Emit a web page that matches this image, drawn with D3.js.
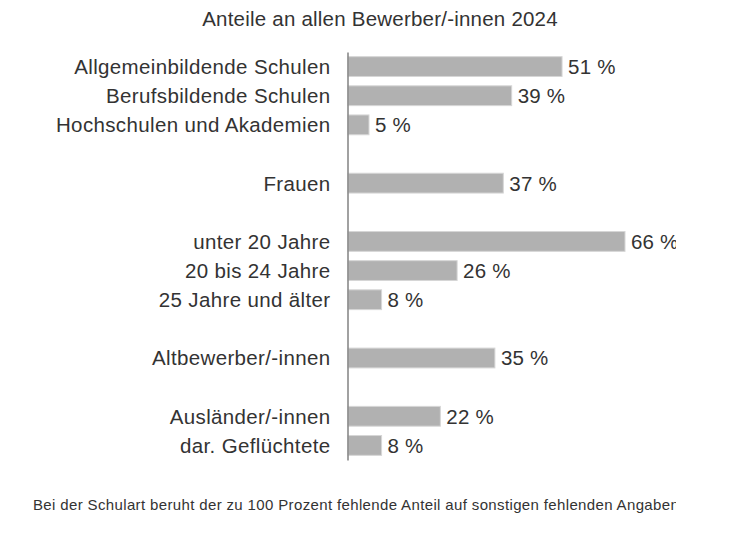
<!DOCTYPE html>
<html>
<head>
<meta charset="utf-8">
<script src="https://cdn.jsdelivr.net/npm/d3@7"></script>
<style>
  html, body { margin: 0; padding: 0; background: #fff; }
  svg { display: block; }
</style>
</head>
<body>
<svg id="chart" width="750" height="546"></svg>
<script>
const title = "Anteile an allen Bewerber/-innen 2024";
const footnote = "Bei der Schulart beruht der zu 100 Prozent fehlende Anteil auf sonstigen fehlenden Angaben";
const categories = [
  "Allgemeinbildende Schulen",
  "Berufsbildende Schulen",
  "Hochschulen und Akademien",
  "Frauen",
  "unter 20 Jahre",
  "20 bis 24 Jahre",
  "25 Jahre und älter",
  "Altbewerber/-innen",
  "Ausländer/-innen",
  "dar. Geflüchtete"
];
const values = [51, 39, 5, 37, 66, 26, 8, 35, 22, 8];
const groups = [0, 0, 0, 1, 2, 2, 2, 3, 4, 4];

// build slot domain with one empty slot between groups
const slots = [];
categories.forEach((c, i) => {
  if (i > 0 && groups[i] !== groups[i - 1]) slots.push("gap" + i);
  slots.push(c);
});

const svg = d3.select("#chart");
const W = 750, H = 546;
const clipW = 676;

svg.append("defs").append("clipPath").attr("id", "clip")
  .append("rect").attr("x", 0).attr("y", 0).attr("width", clipW).attr("height", H);

const g = svg.append("g").attr("clip-path", "url(#clip)");

const x = d3.scaleLinear().domain([0, 100]).range([348, 348 + 419.7]);
const y = d3.scaleBand().domain(slots).range([52, 460]).paddingInner(0.32).paddingOuter(0.16);

const font = "'Liberation Sans', Arial, Helvetica, sans-serif";
const textColor = "#333333";

// title
g.append("text")
  .attr("x", 380).attr("y", 26)
  .attr("text-anchor", "middle")
  .attr("font-family", font).attr("font-size", 20.5)
  .attr("letter-spacing", 0.22)
  .attr("fill", textColor)
  .text(title);

// bars
const data = categories.map((c, i) => ({ c, v: values[i] }));
g.selectAll("rect.bar").data(data).join("rect")
  .attr("class", "bar")
  .attr("x", x(0))
  .attr("y", d => y(d.c))
  .attr("width", d => x(d.v) - x(0))
  .attr("height", y.bandwidth())
  .attr("fill", "#b1b1b1")
  .attr("stroke", "#d6d6d6")
  .attr("stroke-width", 1);

// value labels
g.selectAll("text.val").data(data).join("text")
  .attr("class", "val")
  .attr("x", d => x(d.v) + 6)
  .attr("y", d => y(d.c) + y.bandwidth() / 2)
  .attr("dy", "0.36em")
  .attr("font-family", font).attr("font-size", 20.5)
  .attr("letter-spacing", 0.2)
  .attr("fill", textColor)
  .text(d => d.v + " %");

// category axis
const axis = d3.axisLeft(y).tickValues(categories).tickSize(0).tickSizeOuter(0).tickPadding(17);
const ax = g.append("g").attr("transform", "translate(347.5,0)").call(axis);
ax.select(".domain").attr("stroke", "#8a8a8a").attr("stroke-width", 1.6);
ax.selectAll(".tick text")
  .attr("font-family", font).attr("font-size", 20.5)
  .attr("letter-spacing", 0.36)
  .attr("fill", textColor).attr("dy", "0.36em");

// footnote
g.append("text")
  .attr("x", 33).attr("y", 509.5)
  .attr("font-family", font).attr("font-size", 15)
  .attr("letter-spacing", 0.36)
  .attr("fill", textColor)
  .text(footnote);
</script>
</body>
</html>
